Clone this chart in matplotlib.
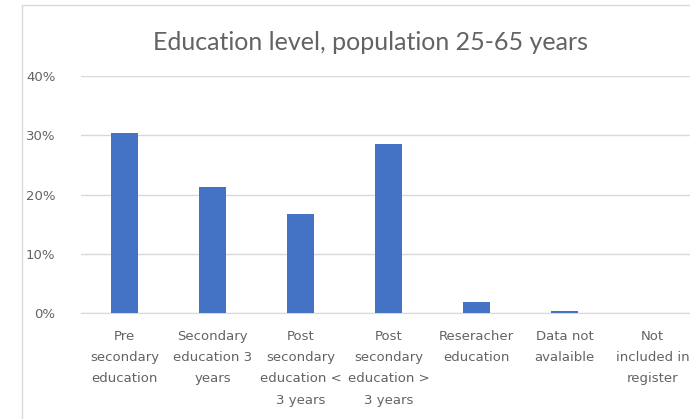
import numpy as np
import matplotlib.pyplot as plt
from matplotlib.patches import Rectangle

# Education level shares, population 25-65 years (percent)
categories = [
    "Pre\nsecondary\neducation",
    "Secondary\neducation 3\nyears",
    "Post\nsecondary\neducation <\n3 years",
    "Post\nsecondary\neducation >\n3 years",
    "Reseracher\neducation",
    "Data not\navalaible",
    "Not\nincluded in\nregister",
]
shares = [30.4, 21.3, 16.7, 28.5, 1.9, 0.4, 0.0]
y_ticks = [0, 10, 20, 30, 40]
y_labels = ["0%", "10%", "20%", "30%", "40%"]

text_gray = "#636363"
grid_gray = "#d9d9d9"
bar_blue = "#4472c4"

fig = plt.figure(figsize=(6.9, 4.19), dpi=100)
W, H = 690, 419

# chart frame (runs off the right edge)
fig.patches.append(Rectangle((22 / W, -0.1), 1.2, (H - 5.5) / H + 0.1,
                             transform=fig.transFigure, fill=False,
                             edgecolor=grid_gray, linewidth=1.0))

ax = fig.add_axes([80.5 / W, (H - 313.3) / H, 616 / W, 237.2 / H])
x = np.arange(len(categories))
ax.bar(x, shares, width=0.31, color=bar_blue, zorder=3)

ax.set_xlim(-0.5, len(categories) - 0.5)
ax.set_ylim(0, 40)
ax.set_yticks(y_ticks)
ax.set_yticklabels(y_labels)
ax.set_xticks(x)
ax.set_xticklabels(categories, linespacing=1.82)

ax.grid(axis="y", color=grid_gray, linewidth=1.0, zorder=0)
for side in ["top", "right", "left"]:
    ax.spines[side].set_visible(False)
ax.spines["bottom"].set_color(grid_gray)
ax.tick_params(axis="both", length=0, colors=text_gray, labelsize=9.5)
ax.tick_params(axis="y", pad=18)
ax.tick_params(axis="x", pad=12)

fig.text(370 / W, 1 - 42 / H, "Education level, population 25-65 years",
         ha="center", va="center", fontsize=18, color=text_gray,
         family="Lato")

plt.savefig("out.png", dpi=100)
